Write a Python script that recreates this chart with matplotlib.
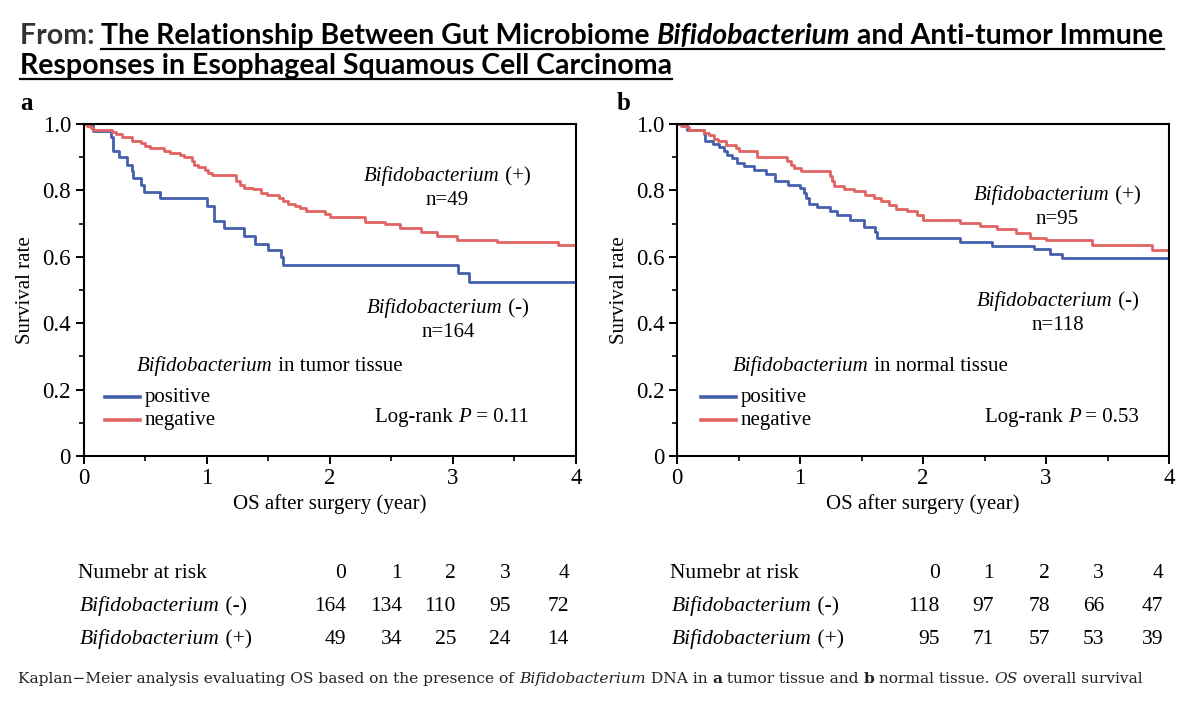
import numpy as np
import matplotlib
matplotlib.use('Agg')
import matplotlib.pyplot as plt
from matplotlib.lines import Line2D
from matplotlib.ticker import MultipleLocator

W, H = 1200, 706

# --- данные ---
# панель a (ткань опухоли)
a_pos_t = [0, 0.08, 0.22, 0.24, 0.29, 0.35, 0.39, 0.40, 0.47, 0.49, 0.62, 1.00, 1.06,
           1.14, 1.30, 1.39, 1.50, 1.60, 1.62, 3.04, 3.13, 4.0]
a_pos_s = [1.0, 0.98, 0.96, 0.92, 0.90, 0.878, 0.857, 0.837, 0.816, 0.796, 0.776, 0.752,
           0.707, 0.686, 0.662, 0.639, 0.619, 0.598, 0.576, 0.551, 0.525, 0.525]
a_neg_t = [0, 0.03, 0.06, 0.08, 0.23, 0.26, 0.31, 0.39, 0.47, 0.50, 0.54, 0.65, 0.70,
           0.78, 0.82, 0.88, 0.90, 0.93, 0.99, 1.01, 1.04, 1.24, 1.27, 1.30, 1.38, 1.44,
           1.49, 1.59, 1.62, 1.66, 1.72, 1.76, 1.81, 1.96, 2.0, 2.29, 2.45, 2.57, 2.74,
           2.87, 3.03, 3.36, 3.85, 4.0]
a_neg_s = [1.0, 0.994, 0.988, 0.982, 0.975, 0.969, 0.96, 0.95, 0.944, 0.934, 0.927, 0.919,
           0.914, 0.907, 0.90, 0.888, 0.878, 0.87, 0.862, 0.853, 0.846, 0.828, 0.817,
           0.808, 0.803, 0.793, 0.786, 0.778, 0.768, 0.76, 0.753, 0.746, 0.738, 0.728,
           0.719, 0.706, 0.698, 0.688, 0.674, 0.664, 0.651, 0.645, 0.636, 0.636]

# панель b (нормальная ткань)
b_pos_t = [0, 0.08, 0.22, 0.23, 0.29, 0.34, 0.38, 0.41, 0.45, 0.49, 0.545, 0.63, 0.72,
           0.80, 0.90, 1.0, 1.03, 1.05, 1.07, 1.14, 1.24, 1.30, 1.41, 1.52, 1.61, 1.63,
           2.30, 2.56, 2.90, 3.03, 3.13, 4.0]
b_pos_s = [1.0, 0.983, 0.97, 0.948, 0.94, 0.93, 0.918, 0.908, 0.897, 0.884, 0.874, 0.862,
           0.849, 0.827, 0.817, 0.807, 0.792, 0.777, 0.76, 0.749, 0.737, 0.725, 0.712,
           0.691, 0.676, 0.656, 0.645, 0.634, 0.622, 0.609, 0.596, 0.596]
b_neg_t = [0, 0.03, 0.07, 0.10, 0.22, 0.26, 0.30, 0.33, 0.40, 0.476, 0.50, 0.65, 0.897,
           0.924, 0.95, 1.005, 1.24, 1.26, 1.28, 1.36, 1.44, 1.53, 1.60, 1.66, 1.72, 1.78,
           1.87, 1.95, 2.0, 2.30, 2.46, 2.60, 2.76, 2.87, 3.0, 3.37, 3.86, 4.0]
b_neg_s = [1.0, 0.995, 0.99, 0.983, 0.973, 0.966, 0.956, 0.95, 0.938, 0.928, 0.918, 0.90,
           0.89, 0.877, 0.867, 0.857, 0.842, 0.827, 0.812, 0.805, 0.797, 0.785, 0.777,
           0.769, 0.757, 0.745, 0.739, 0.726, 0.711, 0.701, 0.693, 0.683, 0.671, 0.656,
           0.651, 0.636, 0.621, 0.621]

risk_times = ['0', '1', '2', '3', '4']
a_risk_neg = [164, 134, 110, 95, 72]
a_risk_pos = [49, 34, 25, 24, 14]
b_risk_neg = [118, 97, 78, 66, 47]
b_risk_pos = [95, 71, 57, 53, 39]

y_ticks = [0, 0.2, 0.4, 0.6, 0.8, 1.0]
y_ticklabels = ['0', '0.2', '0.4', '0.6', '0.8', '1.0']

BLUE = '#4460ad'
RED = '#e06461'
SERIF = 'Liberation Serif'
FS = 15      # текст внутри графика
FS_TAB = 15.5

fig = plt.figure(figsize=(W / 100, H / 100), dpi=100)
fig.patch.set_facecolor('white')
renderer = fig.canvas.get_renderer()


def fx(px):
    return px / W


def fy(py):
    return 1 - py / H


def adv(s, **kw):
    # ширина текста вместе с пробелами
    t1 = fig.text(0, 0, s + '|', **kw)
    t2 = fig.text(0, 0, '|', **kw)
    w = t1.get_window_extent(renderer).width - t2.get_window_extent(renderer).width
    t1.remove()
    t2.remove()
    return w


def rich(x, y, pieces, ha='left', **common):
    # строка из кусков разного начертания; x, y - пиксели от левого верхнего угла
    ws = [adv(s, **common, **st) for s, st in pieces]
    x0 = x - sum(ws) / 2 if ha == 'center' else x
    starts = []
    for (s, st), w in zip(pieces, ws):
        fig.text(fx(x0), fy(y), s, va='baseline', ha='left', **common, **st)
        starts.append(x0)
        x0 += w
    return starts, x0


def panel(left, right, pos_t, pos_s, neg_t, neg_s, tissue, plus_xy, minus_xy,
          n_plus, n_minus, pval, leg_x):
    ax = fig.add_axes([fx(left), fy(456), fx(right - left), (456 - 124) / H])
    ax.step(pos_t, pos_s, where='post', color=BLUE, lw=2.0)
    ax.step(neg_t, neg_s, where='post', color=RED, lw=2.0)
    ax.set_xlim(0, 4)
    ax.set_ylim(0, 1)
    ax.set_yticks(y_ticks)
    ax.set_yticklabels(y_ticklabels)
    ax.set_xticks([0, 1, 2, 3, 4])
    ax.xaxis.set_minor_locator(MultipleLocator(0.5))
    ax.yaxis.set_minor_locator(MultipleLocator(0.1))
    ax.tick_params(which='major', direction='out', length=6, width=1.4, labelsize=16.5,
                   pad=3)
    ax.tick_params(which='minor', direction='out', length=3.5, width=1.2)
    for lab in ax.get_xticklabels() + ax.get_yticklabels():
        lab.set_fontfamily(SERIF)
    for sp in ax.spines.values():
        sp.set_linewidth(1.5)
    ax.set_ylabel('Survival rate', fontsize=FS, family=SERIF, labelpad=5)
    ax.set_xlabel('OS after surgery (year)', fontsize=FS, family=SERIF, labelpad=3)

    # подписи на графике
    it = {'style': 'italic'}
    rich(plus_xy[0], plus_xy[1], [('Bifidobacterium', it), (' (+)', {})], ha='center',
         family=SERIF, fontsize=FS)
    fig.text(fx(plus_xy[0]), fy(plus_xy[1] + 24), 'n=%d' % n_plus, ha='center',
             va='baseline', family=SERIF, fontsize=FS)
    rich(minus_xy[0], minus_xy[1], [('Bifidobacterium', it), (' (-)', {})], ha='center',
         family=SERIF, fontsize=FS)
    fig.text(fx(minus_xy[0]), fy(minus_xy[1] + 24), 'n=%d' % n_minus, ha='center',
             va='baseline', family=SERIF, fontsize=FS)
    rich(leg_x + 32, 371, [('Bifidobacterium', it), (' in %s tissue' % tissue, {})],
         family=SERIF, fontsize=FS)
    for yy, col, lab in [(397, BLUE, 'positive'), (420, RED, 'negative')]:
        fig.add_artist(Line2D([fx(leg_x), fx(leg_x + 35)], [fy(yy), fy(yy)],
                              color=col, lw=2.6))
        fig.text(fx(leg_x + 40), fy(yy + 5), lab, va='baseline', family=SERIF, fontsize=FS)
    rich(plus_xy[0] + 5, 422, [('Log-rank ', {}), ('P', it), (' = %s' % pval, {})],
         ha='center', family=SERIF, fontsize=FS)
    return ax


panel(83.5, 576, a_pos_t, a_pos_s, a_neg_t, a_neg_s, 'tumor', (447, 181), (448, 313),
      49, 164, '0.11', 105)
panel(677, 1169, b_pos_t, b_pos_s, b_neg_t, b_neg_s, 'normal', (1057, 200), (1058, 306),
      95, 118, '0.53', 701)

fig.text(fx(20), fy(110), 'a', family=SERIF, fontsize=18, weight='bold', va='baseline')
fig.text(fx(617), fy(110), 'b', family=SERIF, fontsize=18, weight='bold', va='baseline')


# таблица "Number at risk"
def risk_table(x_lab, col_right, neg, pos):
    fig.text(fx(x_lab), fy(578), 'Numebr at risk', va='baseline', family=SERIF,
             fontsize=FS_TAB)
    it = {'style': 'italic'}
    rich(x_lab + 2, 611, [('Bifidobacterium', it), (' (-)', {})], family=SERIF,
         fontsize=FS_TAB)
    rich(x_lab + 2, 644, [('Bifidobacterium', it), (' (+)', {})], family=SERIF,
         fontsize=FS_TAB)
    for xr, t, n1, n2 in zip(col_right, risk_times, neg, pos):
        for yy, s in [(578, t), (611, str(n1)), (644, str(n2))]:
            fig.text(fx(xr), fy(yy), s, ha='right', va='baseline', family=SERIF,
                     fontsize=FS_TAB)


risk_table(78, [346, 402, 456, 511, 569], a_risk_neg, a_risk_pos)
risk_table(670, [940, 994, 1050, 1104, 1163], b_risk_neg, b_risk_pos)

# заголовок
TF = dict(family='Lato', weight='bold', fontsize=20.5)
bi = {'style': 'italic'}
st1, end1 = rich(20, 44, [('From: ', {'color': '#333333'}),
                           ('The Relationship Between Gut Microbiome ', {}),
                           ('Bifidobacterium', bi),
                           (' and Anti-tumor Immune', {})], **TF)
st2, end2 = rich(20, 74, [('Responses in Esophageal Squamous Cell Carcinoma', {})], **TF)
fig.add_artist(Line2D([fx(st1[1]), fx(end1)], [fy(48.5), fy(48.5)], color='black', lw=1.6))
fig.add_artist(Line2D([fx(st2[0]), fx(end2)], [fy(78.5), fy(78.5)], color='black', lw=1.6))

# подпись
CF = dict(family='DejaVu Serif', fontsize=11.15, color='#222222')
rich(18, 683, [('Kaplan\u2212Meier analysis evaluating OS based on the presence of ', {}),
               ('Bifidobacterium', {'style': 'italic'}),
               (' DNA in ', {}), ('a', {'weight': 'bold'}), (' tumor tissue and ', {}),
               ('b', {'weight': 'bold'}), (' normal tissue. ', {}),
               ('OS', {'style': 'italic'}), (' overall survival', {})], **CF)

fig.savefig('out.png', dpi=100, facecolor='white')
